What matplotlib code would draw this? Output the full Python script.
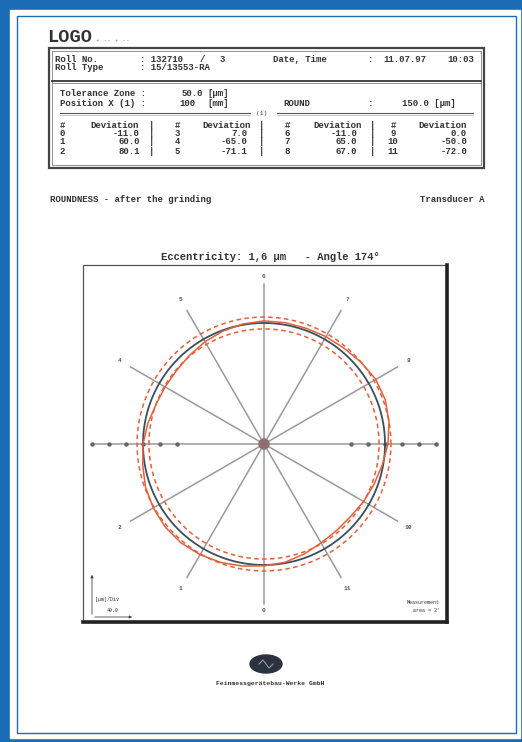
import numpy as np
import matplotlib
matplotlib.use("Agg")
import matplotlib.pyplot as plt
from matplotlib.patches import Rectangle, Circle, Ellipse

plt.rcParams["font.family"] = ["Liberation Mono", "DejaVu Sans Mono"]

# header data
roll_no = "132710"
roll_part = "3"
roll_type = "15/13553-RA"
date_str = "11.07.97"
time_str = "10:03"
tolerance_zone = "50.0"
position_x = "100"
round_value = "150.0"

# deviation table (point no. / deviation in um)
point_no = list(range(12))
deviation = [-11.0, 60.0, 80.1, 7.0, -65.0, -71.1, -11.0, 65.0, 67.0, 0.0, -50.0, -72.0]

# measured profile, deviation from reference circle in um every 10 deg
profile_angle = list(range(0, 360, 10))
profile_dev = [7, 14, 19, 19, 14, 9, 7, 5, 5, 5, 2, -2, -7, -12, -16, -16, -14, -7,
               0, 5, 12, 16, 19, 19, 16, 12, 7, 2, -2, -9, -16, -19, -19, -14, -9, -2]
band_um = 14

# spokes and their labels
spoke_angle = [270, 240, 210, 150, 120, 90, 60, 30, -30, -60]
spoke_label = ["0", "1", "2", "4", "5", "6", "7", "8", "10", "11"]
div_steps = [-2, -1, 0, 1, 2, 3]
um_per_div = 40.0

eccentricity = "1,6"
angle_deg = 174

W, H = 522, 742
BLUE = "#1a6db4"
INK = "#333333"
RED = "#e5603a"

fig = plt.figure(figsize=(W / 100, H / 100), dpi=100)
ax = fig.add_axes([0, 0, 1, 1])
ax.set_xlim(0, W)
ax.set_ylim(H, 0)
ax.axis("off")

# page frame
ax.add_patch(Rectangle((0, 0), W, H, color=BLUE, zorder=0))
ax.add_patch(Rectangle((10, 10), W - 12, H - 14, color="white", zorder=0))
ax.add_patch(Rectangle((17, 16), 499, 717, fill=False, ec=BLUE, lw=1.0, zorder=1))

# logo line
ax.text(47, 38, "LOGO", fontsize=13.5, fontweight="bold", color="#333", va="center")
ax.text(96, 41, "+ -- + --", fontsize=4.5, color="#888", va="center")

# header box
ax.add_patch(Rectangle((49, 48), 435, 120, fill=False, ec="#444", lw=1.6))
ax.add_patch(Rectangle((52, 51), 429, 114, fill=False, ec="#666", lw=0.5))
ax.plot([52, 481], [80.5, 80.5], color="#444", lw=1.4)
ax.plot([52, 481], [83, 83], color="#666", lw=0.5)

fs = 6.5
def t(x, y, s, ha="left", **kw):
    ax.text(x, y, s, fontsize=fs, color=INK, ha=ha, va="center", fontweight="bold", **kw)

t(55, 59, "Roll No.")
t(140, 59, ": " + roll_no)
t(200, 59, "/")
t(220, 59, roll_part)
t(273, 59, "Date, Time")
t(368, 59, ":")
t(383, 59, date_str)
t(447, 59, time_str)
t(55, 67, "Roll Type")
t(140, 67, ": " + roll_type)

t(60, 94, "Tolerance Zone :")
t(203, 94, tolerance_zone, ha="right")
t(207, 94, "[\u00b5m]")
t(60, 103, "Position X (1) :")
t(195, 103, position_x, ha="right")
t(207, 103, "[mm]")
t(283, 103, "ROUND")
t(368, 103, ":")
t(402, 103, round_value + " [\u00b5m]")

ax.plot([60, 250], [113, 113], color="#555", lw=0.8)
ax.plot([60, 250], [115, 115], color="#999", lw=0.4)
ax.plot([277, 473], [113, 113], color="#555", lw=0.8)
ax.plot([277, 473], [115, 115], color="#999", lw=0.4)
ax.text(262, 113, "(1)", fontsize=4.5, color=INK, ha="center", va="center")

num_x = [62, 177, 287, 393]
dev_left = [90, 202, 313, 418]
dev_right = [140, 247, 357, 467]
sep_x = [152, 262, 373]
row_y = [133, 142, 151]
for c in range(4):
    t(num_x[c], 125, "#", ha="center")
    t(dev_left[c], 125, "Deviation")
for sx in sep_x:
    for yy in [125] + row_y:
        t(sx, yy, "|", ha="center")
for i, (p, d) in enumerate(zip(point_no, deviation)):
    c, r = divmod(i, 3)
    t(num_x[c], row_y[r], str(p), ha="center")
    t(dev_right[c], row_y[r], f"{d:.1f}", ha="right")

t(50, 200, "ROUNDNESS - after the grinding")
t(485, 200, "Transducer A", ha="right")

ax.text(270, 257, f"Eccentricity: {eccentricity} \u00b5m   - Angle {angle_deg}\u00b0",
        fontsize=7.6, fontweight="bold", color=INK, ha="center", va="center")

# plot box with shadow
bx0, by0, bx1, by1 = 83, 265, 447, 622
ax.plot([bx1, bx1], [by0, by1], color="#222", lw=2.6)
ax.plot([bx0, bx1], [by1, by1], color="#222", lw=2.6)
ax.add_patch(Rectangle((bx0, by0), bx1 - bx0, by1 - by0, fill=False, ec="#555", lw=0.9))

# logo at bottom
ax.add_patch(Ellipse((266, 664), 32, 18, color="#2c3240"))
ax.plot([259, 263, 269, 273], [664, 660, 668, 664], color="#8899aa", lw=0.8)
ax.text(270, 683, "Feinmessger\u00e4tebau-Werke GmbH", fontsize=4.6, color="#333",
        ha="center", va="center", fontweight="bold")

# roundness diagram, units = px, origin at centre
cx, cy = 264, 444
pax = fig.add_axes([bx0 / W, 1 - by1 / H, (bx1 - bx0) / W, (by1 - by0) / H])
pax.set_xlim(bx0 - cx, bx1 - cx)
pax.set_ylim(cy - by1, cy - by0)
pax.axis("off")

R0 = 121.0
px_per_um = 17.0 / um_per_div
GREY = "#9a9a9a"

for a, lab in zip(spoke_angle, spoke_label):
    th = np.deg2rad(a)
    rr = 160 if a in (90, 270) else 154
    pax.plot([0, rr * np.cos(th)], [0, rr * np.sin(th)], color=GREY, lw=1.1, zorder=1)
    pax.text(167 * np.cos(th), 167 * np.sin(th), lab, fontsize=4.5, color="#555",
             ha="center", va="center", fontweight="bold")

pax.plot([-170, 174], [0, 0], color=GREY, lw=1.1, zorder=1)
tick_r = [R0 + k * um_per_div * px_per_um for k in div_steps]
pax.plot(tick_r, [0] * len(tick_r), "o", ms=2.2, color="#666", zorder=2)
pax.plot([-r for r in tick_r], [0] * len(tick_r), "o", ms=2.2, color="#666", zorder=2)

th = np.linspace(0, 2 * np.pi, 721)
for sign in (-1, 1):
    rb = R0 + sign * band_um * px_per_um
    pax.plot(rb * np.cos(th), rb * np.sin(th), color=RED, lw=1.1, ls=(0, (3, 2.2)), zorder=3)
pax.plot(R0 * np.cos(th), R0 * np.sin(th), color="#3b4f5a", lw=1.3, zorder=4)

pa = np.deg2rad(profile_angle + [profile_angle[0]])
pr = R0 + np.array(profile_dev + [profile_dev[0]]) * px_per_um
pax.plot(pr * np.cos(pa), pr * np.sin(pa), color=RED, lw=1.1, zorder=5)

pax.add_patch(Circle((0, 0), 5, color="#8c6e6e", zorder=6))

# scale legend bottom left
lx, ly = 92 - cx, cy - 617
pax.annotate("", xy=(lx, ly + 45), xytext=(lx, ly),
             arrowprops=dict(arrowstyle="-|>", lw=0.6, color="#444", mutation_scale=4))
pax.annotate("", xy=(lx + 43, ly), xytext=(lx, ly),
             arrowprops=dict(arrowstyle="-|>", lw=0.6, color="#444", mutation_scale=4))
pax.text(lx + 3, ly + 17, "[\u00b5m]/Div", fontsize=3.6, color="#333", va="center")
pax.text(lx + 15, ly + 7, f"{um_per_div:.1f}", fontsize=3.6, color="#333", va="center")
pax.text(440 - cx, cy - 602, "Measurement", fontsize=3.6, color="#333", ha="right", va="center")
pax.text(440 - cx, cy - 611, "area = 2\u00b0", fontsize=3.6, color="#333", ha="right", va="center")

fig.savefig("out.png", dpi=100)
